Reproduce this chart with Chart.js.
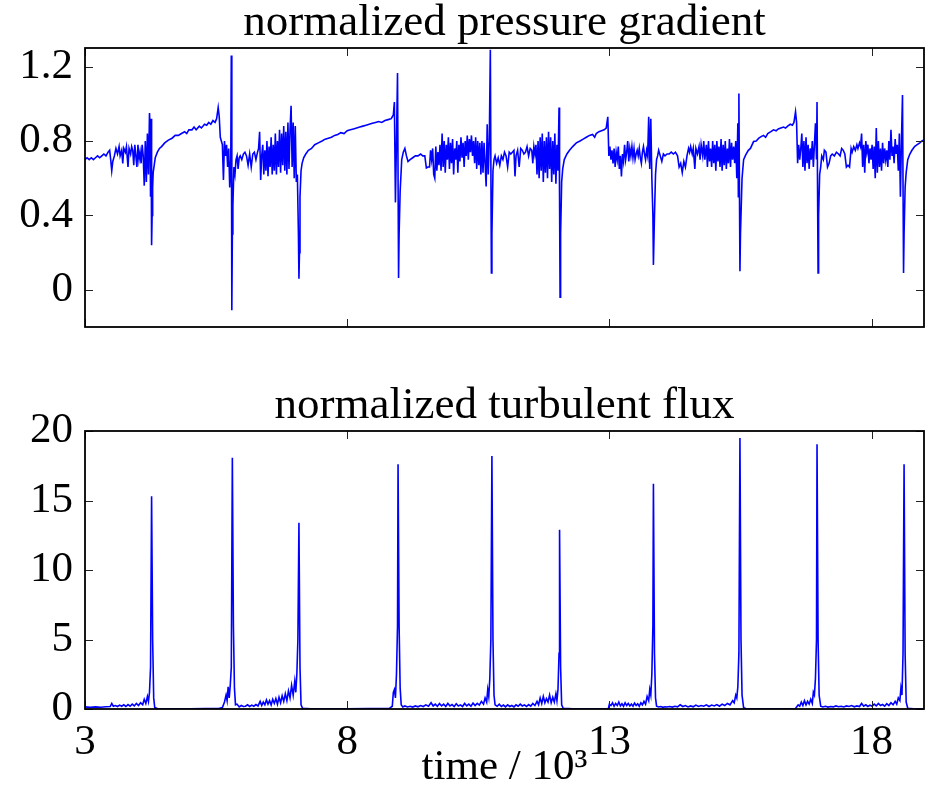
<!DOCTYPE html>
<html>
<head>
<meta charset="utf-8">
<script src="https://cdn.jsdelivr.net/npm/chart.js@4.4.1/dist/chart.umd.min.js"></script>
<style>
  html, body { margin: 0; padding: 0; background: #fff; }
  #wrap { position: relative; width: 930px; height: 789px; background: #fff; }
  canvas { position: absolute; left: 0; }
  #top { top: 0; }
  #bot { top: 380px; }
</style>
</head>
<body>
<div id="wrap">
  <canvas id="top" width="930" height="380"></canvas>
  <canvas id="bot" width="930" height="409"></canvas>
</div>
<script>
// ---------------- data ----------------
const topTitle = 'normalized pressure gradient';
const bottomTitle = 'normalized turbulent flux';
const xAxisTitle = 'time / 10\u00B3';
const xTicks = [3, 8, 13, 18];
const pressureTicks = [0, 0.4, 0.8, 1.2];
const fluxTicks = [0, 5, 10, 15, 20];

// [time/10^3, normalized pressure gradient]
const pressureGradient = [
[3.00,0.70],[3.04,0.71],[3.08,0.70],[3.12,0.71],[3.16,0.70],[3.20,0.71],[3.24,0.72],[3.28,0.71],[3.32,0.72],[3.36,0.73],
[3.40,0.72],[3.44,0.74],[3.47,0.75],[3.49,0.70],[3.51,0.64],[3.53,0.69],[3.56,0.72],[3.59,0.76],[3.62,0.73],[3.65,0.77],
[3.67,0.72],[3.70,0.75],[3.72,0.68],[3.74,0.76],[3.77,0.74],[3.79,0.77],[3.82,0.66],[3.84,0.76],[3.87,0.73],[3.89,0.77],
[3.91,0.75],[3.93,0.67],[3.95,0.78],[3.97,0.72],[3.99,0.66],[4.01,0.78],[4.03,0.70],[4.05,0.74],[4.07,0.68],[4.09,0.78],
[4.11,0.72],[4.13,0.56],[4.15,0.80],[4.17,0.58],[4.19,0.84],[4.21,0.62],[4.23,0.95],[4.24,0.88],[4.25,0.50],[4.26,0.92],
[4.27,0.24],[4.28,0.40],[4.29,0.55],[4.30,0.63],[4.32,0.67],[4.34,0.71],[4.38,0.74],[4.42,0.76],[4.46,0.77],[4.52,0.79],
[4.59,0.805],[4.66,0.815],[4.72,0.83],[4.78,0.83],[4.84,0.84],[4.90,0.85],[4.94,0.84],[4.98,0.86],[5.04,0.86],[5.08,0.875],
[5.12,0.86],[5.18,0.88],[5.22,0.87],[5.28,0.89],[5.32,0.885],[5.36,0.90],[5.40,0.89],[5.44,0.91],[5.48,0.90],[5.51,0.92],
[5.54,0.98],[5.56,0.93],[5.58,0.82],[5.60,0.80],[5.62,0.78],[5.64,0.59],[5.66,0.80],[5.68,0.72],[5.70,0.78],[5.72,0.66],
[5.74,0.76],[5.76,0.55],[5.78,0.70],[5.79,1.26],[5.80,-0.11],[5.81,0.30],[5.82,0.45],[5.84,0.66],[5.86,0.62],[5.88,0.70],
[5.90,0.72],[5.92,0.65],[5.94,0.71],[5.96,0.72],[5.99,0.70],[6.02,0.73],[6.05,0.74],[6.08,0.72],[6.11,0.67],[6.14,0.73],
[6.17,0.66],[6.20,0.73],[6.23,0.74],[6.26,0.70],[6.29,0.74],[6.31,0.76],[6.33,0.85],[6.35,0.59],[6.37,0.72],[6.39,0.78],
[6.41,0.62],[6.43,0.75],[6.45,0.64],[6.47,0.80],[6.49,0.61],[6.51,0.77],[6.53,0.66],[6.55,0.82],[6.57,0.62],[6.59,0.78],
[6.61,0.64],[6.63,0.84],[6.65,0.62],[6.67,0.80],[6.69,0.66],[6.71,0.86],[6.73,0.63],[6.75,0.84],[6.77,0.67],[6.79,0.88],
[6.81,0.64],[6.83,0.85],[6.85,0.62],[6.87,0.90],[6.89,0.65],[6.91,0.86],[6.93,0.99],[6.95,0.66],[6.97,0.90],[6.99,0.60],
[7.01,0.88],[7.03,0.58],[7.05,0.62],[7.07,0.30],[7.08,0.06],[7.09,0.20],[7.10,0.50],[7.12,0.64],[7.14,0.68],[7.17,0.71],
[7.21,0.73],[7.26,0.75],[7.32,0.76],[7.38,0.78],[7.45,0.79],[7.52,0.80],[7.58,0.81],[7.64,0.815],[7.70,0.82],[7.76,0.83],
[7.82,0.835],[7.88,0.845],[7.94,0.84],[8.00,0.855],[8.06,0.86],[8.12,0.865],[8.18,0.87],[8.24,0.875],[8.30,0.88],[8.36,0.885],
[8.42,0.89],[8.48,0.895],[8.54,0.90],[8.60,0.905],[8.66,0.90],[8.72,0.91],[8.78,0.915],[8.84,0.92],[8.88,0.94],[8.90,1.01],
[8.92,0.47],[8.94,0.80],[8.96,1.165],[8.98,0.064],[8.99,0.30],[9.01,0.53],[9.04,0.70],[9.07,0.74],[9.10,0.76],[9.13,0.72],
[9.16,0.69],[9.20,0.70],[9.25,0.71],[9.30,0.72],[9.35,0.72],[9.40,0.73],[9.44,0.72],[9.48,0.72],[9.51,0.655],[9.54,0.66],
[9.57,0.66],[9.59,0.75],[9.61,0.70],[9.63,0.76],[9.65,0.62],[9.67,0.60],[9.69,0.77],[9.71,0.64],[9.73,0.74],[9.75,0.67],
[9.77,0.78],[9.79,0.64],[9.81,0.84],[9.83,0.66],[9.85,0.80],[9.87,0.63],[9.89,0.78],[9.91,0.70],[9.93,0.82],[9.95,0.65],
[9.97,0.79],[9.99,0.68],[10.01,0.81],[10.03,0.62],[10.05,0.76],[10.07,0.70],[10.09,0.80],[10.11,0.63],[10.13,0.78],[10.15,0.69],
[10.17,0.82],[10.19,0.71],[10.21,0.79],[10.23,0.66],[10.25,0.80],[10.27,0.72],[10.29,0.83],[10.31,0.70],[10.33,0.81],[10.35,0.74],
[10.37,0.83],[10.39,0.72],[10.41,0.80],[10.43,0.68],[10.45,0.82],[10.47,0.65],[10.49,0.80],[10.51,0.67],[10.53,0.79],[10.55,0.62],
[10.57,0.80],[10.59,0.63],[10.61,0.79],[10.63,0.68],[10.65,0.555],[10.67,0.89],[10.69,0.62],[10.71,0.80],[10.73,1.29],[10.75,0.09],
[10.76,0.30],[10.78,0.64],[10.80,0.70],[10.82,0.72],[10.85,0.68],[10.88,0.71],[10.91,0.67],[10.94,0.72],[10.97,0.70],[11.00,0.74],
[11.03,0.72],[11.06,0.66],[11.09,0.74],[11.12,0.73],[11.15,0.74],[11.18,0.75],[11.20,0.61],[11.22,0.72],[11.25,0.75],[11.28,0.66],
[11.31,0.76],[11.34,0.75],[11.37,0.73],[11.40,0.74],[11.43,0.77],[11.46,0.72],[11.49,0.76],[11.52,0.75],[11.54,0.68],[11.56,0.77],
[11.58,0.73],[11.60,0.78],[11.62,0.62],[11.64,0.80],[11.66,0.60],[11.68,0.82],[11.70,0.64],[11.72,0.84],[11.74,0.58],[11.76,0.80],
[11.78,0.63],[11.80,0.82],[11.82,0.60],[11.84,0.85],[11.86,0.65],[11.88,0.82],[11.90,0.58],[11.92,0.80],[11.94,0.62],[11.96,0.84],
[11.98,0.57],[12.00,0.78],[12.02,0.64],[12.04,0.98],[12.05,0.50],[12.06,-0.04],[12.07,0.30],[12.09,0.58],[12.11,0.65],[12.14,0.70],
[12.19,0.73],[12.24,0.75],[12.30,0.77],[12.37,0.79],[12.44,0.80],[12.50,0.81],[12.56,0.82],[12.62,0.83],[12.68,0.835],[12.72,0.82],
[12.75,0.84],[12.80,0.85],[12.85,0.855],[12.90,0.86],[12.94,0.87],[12.97,0.93],[12.99,0.72],[13.01,0.77],[13.03,0.70],[13.05,0.75],
[13.07,0.68],[13.09,0.76],[13.11,0.66],[13.13,0.74],[13.15,0.70],[13.17,0.77],[13.19,0.65],[13.21,0.72],[13.23,0.61],[13.25,0.73],
[13.27,0.69],[13.29,0.78],[13.31,0.70],[13.33,0.74],[13.35,0.80],[13.37,0.69],[13.39,0.76],[13.41,0.72],[13.43,0.77],[13.45,0.71],
[13.47,0.76],[13.49,0.70],[13.51,0.73],[13.53,0.75],[13.55,0.72],[13.57,0.76],[13.59,0.71],[13.61,0.68],[13.63,0.74],[13.65,0.77],
[13.67,0.73],[13.69,0.70],[13.71,0.75],[13.73,0.72],[13.75,0.93],[13.77,0.65],[13.79,0.92],[13.81,0.60],[13.83,0.40],[13.84,0.134],
[13.86,0.40],[13.88,0.62],[13.90,0.70],[13.92,0.72],[13.94,0.75],[13.97,0.72],[14.00,0.69],[14.03,0.73],[14.06,0.72],[14.10,0.73],
[14.14,0.73],[14.18,0.74],[14.22,0.73],[14.26,0.74],[14.30,0.72],[14.33,0.66],[14.36,0.68],[14.39,0.63],[14.42,0.69],[14.45,0.66],
[14.48,0.72],[14.51,0.76],[14.53,0.74],[14.55,0.77],[14.58,0.73],[14.60,0.76],[14.63,0.65],[14.65,0.76],[14.68,0.73],[14.71,0.77],
[14.73,0.70],[14.75,0.78],[14.78,0.72],[14.80,0.80],[14.82,0.70],[14.85,0.78],[14.87,0.66],[14.89,0.80],[14.91,0.69],[14.93,0.76],
[14.95,0.66],[14.97,0.80],[14.99,0.68],[15.01,0.78],[15.03,0.64],[15.05,0.80],[15.07,0.69],[15.09,0.77],[15.11,0.66],[15.13,0.81],
[15.15,0.64],[15.17,0.78],[15.19,0.67],[15.21,0.80],[15.23,0.65],[15.25,0.76],[15.27,0.68],[15.29,0.81],[15.31,0.66],[15.33,0.79],
[15.35,0.70],[15.37,0.77],[15.39,0.68],[15.41,0.80],[15.43,0.60],[15.45,0.895],[15.46,0.50],[15.47,1.056],[15.49,0.10],[15.50,0.30],
[15.53,0.60],[15.56,0.70],[15.60,0.725],[15.65,0.75],[15.69,0.76],[15.75,0.797],[15.80,0.80],[15.85,0.815],[15.90,0.825],[15.94,0.83],
[15.98,0.82],[16.02,0.84],[16.08,0.85],[16.13,0.86],[16.18,0.855],[16.22,0.865],[16.27,0.87],[16.32,0.875],[16.36,0.87],[16.40,0.88],
[16.45,0.89],[16.49,0.885],[16.52,0.90],[16.55,0.957],[16.57,0.90],[16.59,0.68],[16.61,0.78],[16.63,0.70],[16.65,0.76],[16.67,0.84],
[16.69,0.66],[16.71,0.80],[16.73,0.64],[16.75,0.82],[16.77,0.68],[16.79,0.78],[16.81,0.65],[16.83,0.76],[16.85,0.70],[16.87,0.80],
[16.89,0.66],[16.91,0.78],[16.93,0.895],[16.95,0.70],[16.96,1.01],[16.98,0.09],[16.99,0.40],[17.01,0.62],[17.03,0.66],[17.05,0.72],
[17.08,0.70],[17.10,0.75],[17.13,0.74],[17.16,0.66],[17.19,0.68],[17.22,0.72],[17.25,0.73],[17.29,0.72],[17.33,0.74],[17.37,0.73],
[17.40,0.72],[17.43,0.76],[17.46,0.75],[17.49,0.73],[17.52,0.66],[17.55,0.67],[17.58,0.66],[17.61,0.76],[17.63,0.74],[17.66,0.77],
[17.69,0.75],[17.72,0.78],[17.74,0.76],[17.77,0.79],[17.79,0.77],[17.81,0.84],[17.83,0.66],[17.85,0.78],[17.87,0.63],[17.89,0.80],
[17.91,0.74],[17.93,0.78],[17.95,0.68],[17.97,0.76],[17.99,0.70],[18.01,0.78],[18.03,0.65],[18.05,0.77],[18.07,0.60],[18.09,0.87],
[18.11,0.63],[18.13,0.80],[18.15,0.66],[18.17,0.76],[18.19,0.64],[18.21,0.79],[18.23,0.68],[18.25,0.76],[18.27,0.70],[18.29,0.75],
[18.31,0.66],[18.33,0.80],[18.35,0.70],[18.37,0.86],[18.39,0.72],[18.41,0.77],[18.43,0.68],[18.45,0.81],[18.47,0.73],[18.49,0.78],
[18.51,0.64],[18.53,0.84],[18.55,0.50],[18.57,0.80],[18.59,1.047],[18.61,0.09],[18.62,0.30],[18.64,0.55],[18.66,0.63],[18.69,0.70],
[18.73,0.73],[18.77,0.75],[18.82,0.77],[18.87,0.78],[18.92,0.79],[18.96,0.80],[19.00,0.805]
];

// [time/10^3, normalized turbulent flux]
const turbulentFlux = [
[3.00,0.15],[3.10,0.12],[3.20,0.15],[3.30,0.13],[3.40,0.16],[3.48,0.18],[3.51,0.40],[3.54,0.20],[3.58,0.25],[3.62,0.18],
[3.66,0.28],[3.70,0.20],[3.74,0.30],[3.78,0.18],[3.82,0.32],[3.86,0.20],[3.90,0.35],[3.94,0.22],[3.98,0.40],[4.02,0.25],
[4.06,0.45],[4.10,0.30],[4.13,0.70],[4.16,0.40],[4.19,0.90],[4.21,0.55],[4.23,1.20],[4.25,3.00],[4.27,15.3],[4.29,5.0],
[4.31,0.8],[4.33,0.10],[4.38,0.03],[4.60,0.02],[5.00,0.02],[5.30,0.03],[5.55,0.03],[5.62,0.10],[5.66,0.50],[5.69,1.00],
[5.71,0.60],[5.73,1.60],[5.75,0.80],[5.77,1.70],[5.79,3.00],[5.81,18.07],[5.83,6.0],[5.85,1.5],[5.87,0.30],[5.90,0.35],
[5.94,0.15],[5.98,0.25],[6.02,0.18],[6.06,0.20],[6.10,0.30],[6.14,0.18],[6.18,0.28],[6.22,0.20],[6.26,0.32],[6.30,0.22],
[6.34,0.55],[6.37,0.25],[6.40,0.50],[6.43,0.30],[6.46,0.65],[6.49,0.35],[6.52,0.60],[6.55,0.30],[6.58,0.70],[6.61,0.40],
[6.64,0.75],[6.67,0.35],[6.70,0.85],[6.73,0.45],[6.76,0.95],[6.79,0.55],[6.82,1.10],[6.85,0.60],[6.88,1.30],[6.91,0.80],
[6.94,1.70],[6.97,1.00],[7.00,2.00],[7.02,1.20],[7.04,2.50],[7.06,5.0],[7.08,13.4],[7.10,3.0],[7.12,0.30],[7.15,0.05],
[7.30,0.02],[7.60,0.02],[8.00,0.02],[8.40,0.03],[8.80,0.03],[8.86,0.20],[8.88,1.20],[8.90,1.40],[8.92,0.80],[8.94,2.50],
[8.96,6.0],[8.97,17.6],[8.99,6.0],[9.01,1.5],[9.03,0.30],[9.06,0.15],[9.10,0.22],[9.15,0.15],[9.20,0.20],[9.25,0.14],
[9.30,0.22],[9.35,0.16],[9.40,0.25],[9.45,0.18],[9.50,0.30],[9.55,0.20],[9.60,0.45],[9.64,0.22],[9.68,0.35],[9.72,0.20],
[9.76,0.40],[9.80,0.22],[9.84,0.35],[9.88,0.18],[9.92,0.40],[9.96,0.22],[10.00,0.32],[10.04,0.18],[10.08,0.38],[10.12,0.22],
[10.16,0.30],[10.20,0.18],[10.24,0.40],[10.28,0.22],[10.32,0.35],[10.36,0.20],[10.40,0.42],[10.44,0.25],[10.48,0.40],[10.52,0.28],
[10.56,0.55],[10.60,0.35],[10.63,0.80],[10.66,0.50],[10.68,1.40],[10.70,0.90],[10.72,2.20],[10.74,5.0],[10.76,18.2],[10.78,5.0],
[10.80,1.0],[10.82,0.30],[10.86,0.20],[10.90,0.35],[10.94,0.18],[10.98,0.28],[11.02,0.15],[11.06,0.30],[11.10,0.18],[11.14,0.25],
[11.18,0.15],[11.22,0.30],[11.26,0.20],[11.30,0.35],[11.34,0.22],[11.38,0.30],[11.42,0.18],[11.46,0.32],[11.50,0.20],[11.54,0.40],
[11.58,0.25],[11.62,0.55],[11.65,0.30],[11.68,0.80],[11.71,0.40],[11.74,0.90],[11.77,0.45],[11.80,0.75],[11.83,0.50],[11.86,1.00],
[11.89,0.45],[11.92,0.85],[11.95,0.50],[11.98,1.10],[12.00,0.60],[12.02,1.40],[12.04,4.0],[12.05,12.9],[12.07,3.0],[12.09,0.30],
[12.12,0.05],[12.30,0.02],[12.60,0.02],[12.98,0.02],[13.00,0.35],[13.03,0.25],[13.06,0.45],[13.09,0.20],[13.12,0.40],[13.15,0.25],
[13.18,0.50],[13.21,0.22],[13.24,0.38],[13.27,0.20],[13.30,0.45],[13.33,0.25],[13.36,0.40],[13.39,0.22],[13.42,0.35],[13.45,0.20],
[13.48,0.42],[13.51,0.25],[13.54,0.38],[13.57,0.20],[13.60,0.45],[13.63,0.30],[13.66,0.55],[13.69,0.35],[13.72,0.90],[13.75,0.60],
[13.77,1.40],[13.79,1.00],[13.81,2.50],[13.83,6.0],[13.84,16.2],[13.86,4.0],[13.88,0.80],[13.90,0.20],[13.94,0.15],[13.98,0.18],
[14.02,0.12],[14.06,0.16],[14.10,0.14],[14.15,0.18],[14.20,0.14],[14.25,0.20],[14.30,0.16],[14.35,0.30],[14.40,0.18],[14.45,0.25],
[14.50,0.15],[14.55,0.22],[14.60,0.16],[14.65,0.28],[14.70,0.18],[14.75,0.25],[14.80,0.20],[14.85,0.30],[14.90,0.18],[14.95,0.28],
[15.00,0.22],[15.05,0.32],[15.10,0.20],[15.15,0.35],[15.20,0.25],[15.25,0.40],[15.30,0.30],[15.35,0.60],[15.38,0.45],[15.41,1.00],
[15.43,0.80],[15.45,1.60],[15.47,4.0],[15.49,19.5],[15.51,5.0],[15.53,1.0],[15.56,0.10],[15.60,0.03],[15.90,0.02],[16.20,0.02],
[16.55,0.03],[16.60,0.30],[16.63,0.20],[16.66,0.50],[16.69,0.25],[16.72,0.60],[16.75,0.30],[16.78,0.55],[16.81,0.35],[16.84,0.70],
[16.87,0.40],[16.89,1.20],[16.91,1.00],[16.93,2.20],[16.95,5.0],[16.96,19.05],[16.98,5.0],[17.00,1.00],[17.03,0.20],[17.07,0.15],
[17.12,0.20],[17.17,0.14],[17.22,0.18],[17.27,0.15],[17.32,0.22],[17.37,0.16],[17.42,0.20],[17.47,0.15],[17.52,0.22],[17.57,0.18],
[17.62,0.25],[17.67,0.16],[17.72,0.22],[17.77,0.18],[17.81,0.40],[17.85,0.20],[17.89,0.30],[17.93,0.18],[17.97,0.28],[18.01,0.20],
[18.05,0.35],[18.09,0.22],[18.13,0.40],[18.17,0.25],[18.21,0.32],[18.25,0.20],[18.29,0.38],[18.33,0.25],[18.37,0.45],[18.41,0.30],
[18.45,0.55],[18.48,0.35],[18.51,0.80],[18.54,0.60],[18.56,1.50],[18.58,1.00],[18.60,4.0],[18.62,17.6],[18.64,4.0],[18.66,0.50],
[18.69,0.05],[18.80,0.02],[19.00,0.02]
];

// ---------------- rendering ----------------
const FONT = "'Liberation Serif', 'Times New Roman', 'DejaVu Serif', serif";
const LINE = '#0000ff';

const matlabBox = {
  id: 'matlabBox',
  afterDatasetsDraw(chart, args, opts) {
    const { ctx, chartArea: a, scales } = chart;
    ctx.save();
    const L = 8;
    ctx.strokeStyle = '#222';
    ctx.lineWidth = 1;
    ctx.beginPath();
    opts.xTicks.forEach(v => {
      const x = Math.round(scales.x.getPixelForValue(v)) + 0.5;
      ctx.moveTo(x, a.bottom); ctx.lineTo(x, a.bottom - L);
      ctx.moveTo(x, a.top); ctx.lineTo(x, a.top + L);
    });
    opts.yTicks.forEach(v => {
      const y = Math.round(scales.y.getPixelForValue(v)) + 0.5;
      ctx.moveTo(a.left, y); ctx.lineTo(a.left + L, y);
      ctx.moveTo(a.right, y); ctx.lineTo(a.right - L, y);
    });
    ctx.stroke();
    ctx.strokeStyle = '#000';
    ctx.lineWidth = 1.8;
    ctx.strokeRect(a.left, a.top, a.right - a.left, a.bottom - a.top);
    ctx.restore();
  }
};

function makeChart(canvasId, cfg) {
  return new Chart(document.getElementById(canvasId), {
    type: 'line',
    data: {
      datasets: [{
        data: cfg.points.map(([t, v]) => ({ x: t, y: v })),
        borderColor: LINE,
        borderWidth: 1.6,
        pointRadius: 0,
        tension: 0,
        fill: false
      }]
    },
    options: {
      responsive: false,
      animation: false,
      devicePixelRatio: 1,
      layout: { padding: { left: 0, right: 6, top: 0, bottom: 0 } },
      plugins: {
        legend: { display: false },
        tooltip: { enabled: false },
        title: {
          display: true,
          text: cfg.title,
          fullSize: false,
          color: '#000',
          font: { family: FONT, size: 45, weight: 'normal', lineHeight: 1.0 },
          padding: cfg.titlePad
        },
        matlabBox: { xTicks: xTicks, yTicks: cfg.yTicks }
      },
      scales: {
        x: {
          type: 'linear',
          min: 3, max: 19,
          grid: { display: false, drawTicks: false },
          border: { display: false },
          afterBuildTicks: s => { s.ticks = xTicks.map(v => ({ value: v })); },
          afterFit: s => { s.height = cfg.xHeight; },
          ticks: {
            display: cfg.showX,
            color: '#000',
            padding: 8,
            maxRotation: 0,
            autoSkip: false,
            font: { family: FONT, size: 43 },
            callback: v => String(v)
          },
          title: {
            display: cfg.showX,
            text: xAxisTitle,
            color: '#000',
            font: { family: FONT, size: 43, lineHeight: 1.0 },
            padding: { top: 0, bottom: 0 }
          }
        },
        y: {
          type: 'linear',
          min: cfg.yMin, max: cfg.yMax,
          grid: { display: false, drawTicks: false },
          border: { display: false },
          afterBuildTicks: s => { s.ticks = cfg.yTicks.map(v => ({ value: v })); },
          afterFit: s => { s.width = 85; },
          ticks: {
            color: '#000',
            padding: 12,
            autoSkip: false,
            font: { family: FONT, size: 43 },
            callback: v => String(v)
          }
        }
      }
    },
    plugins: [matlabBox]
  });
}

makeChart('top', {
  points: pressureGradient,
  title: topTitle,
  titlePad: { top: 1, bottom: 2 },
  yTicks: pressureTicks,
  yMin: -0.2, yMax: 1.3,
  showX: false,
  xHeight: 53
});

makeChart('bot', {
  points: turbulentFlux,
  title: bottomTitle,
  titlePad: { top: 4, bottom: 2 },
  yTicks: fluxTicks,
  yMin: 0, yMax: 20,
  showX: true,
  xHeight: 80
});
</script>
</body>
</html>
